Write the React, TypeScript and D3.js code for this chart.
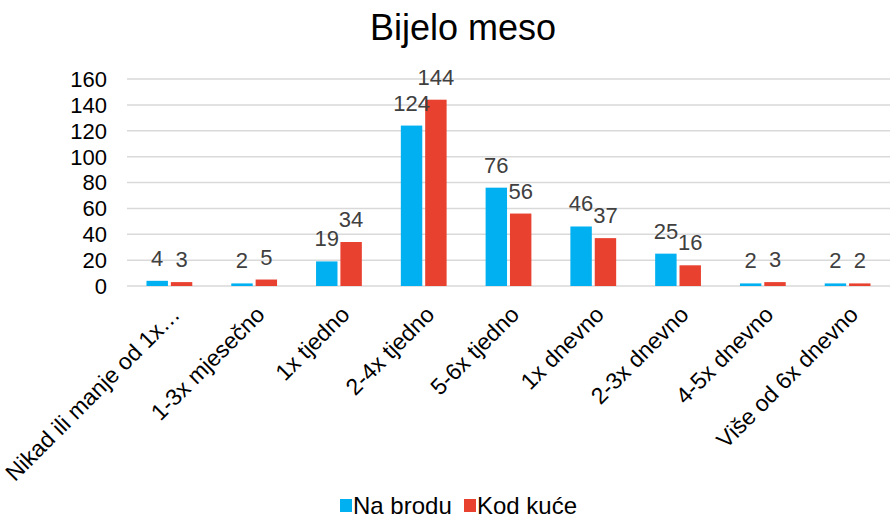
import React, { useEffect, useRef } from 'react';
import * as d3 from 'd3';

const categories = [
  'Nikad ili manje od 1x…',
  '1-3x mjesečno',
  '1x tjedno',
  '2-4x tjedno',
  '5-6x tjedno',
  '1x dnevno',
  '2-3x dnevno',
  '4-5x dnevno',
  'Više od 6x dnevno',
];
const seriesNames = ['Na brodu', 'Kod kuće'];
const naBrodu = [4, 2, 19, 124, 76, 46, 25, 2, 2];
const kodKuce = [3, 5, 34, 144, 56, 37, 16, 3, 2];
const yTicks = [0, 20, 40, 60, 80, 100, 120, 140, 160];
const colors = ['#00B0F0', '#E8412F'];

const W = 891;
const H = 519;
const FONT = 'Arial, "Liberation Sans", sans-serif';

function App() {
  const svgRef = useRef<SVGSVGElement>(null);

  useEffect(() => {
    const svg = d3.select(svgRef.current);
    svg.selectAll('*').remove();

    const left = 127, right = 890, top = 79, bottom = 286;

    const x0 = d3.scaleBand<string>()
      .domain(categories)
      .range([left, right])
      .paddingInner(0.46)
      .paddingOuter(0.23);
    const x1 = d3.scaleBand<string>()
      .domain(seriesNames)
      .range([0, x0.bandwidth()])
      .paddingInner(0.12);
    const y = d3.scaleLinear().domain([0, 160]).range([bottom, top]);

    svg.append('rect').attr('width', W).attr('height', H).attr('fill', '#fff');

    // title
    svg.append('text')
      .attr('x', 463).attr('y', 40)
      .attr('text-anchor', 'middle')
      .attr('font-family', FONT)
      .attr('font-size', 36)
      .attr('fill', '#000')
      .text('Bijelo meso');

    // gridlines
    svg.append('g').selectAll('line')
      .data(yTicks)
      .join('line')
      .attr('x1', left).attr('x2', right)
      .attr('y1', d => y(d)).attr('y2', d => y(d))
      .attr('stroke', '#D9D9D9')
      .attr('stroke-width', 1.5);

    // y tick labels
    svg.append('g').selectAll('text')
      .data(yTicks)
      .join('text')
      .attr('x', 107)
      .attr('y', d => y(d))
      .attr('dy', '0.36em')
      .attr('text-anchor', 'end')
      .attr('font-family', FONT)
      .attr('font-size', 22)
      .attr('fill', '#000')
      .text(d => d);

    const rows = categories.map((c, i) => ({ c, vals: [naBrodu[i], kodKuce[i]] }));

    const groups = svg.append('g').selectAll('g')
      .data(rows)
      .join('g')
      .attr('transform', d => `translate(${x0(d.c)},0)`);

    groups.selectAll('rect')
      .data(d => d.vals.map((v, k) => ({ s: seriesNames[k], v, k })))
      .join('rect')
      .attr('x', d => x1(d.s)!)
      .attr('y', d => y(d.v))
      .attr('width', x1.bandwidth())
      .attr('height', d => y(0) - y(d.v))
      .attr('fill', d => colors[d.k]);

    // data labels
    groups.selectAll('text')
      .data(d => d.vals.map((v, k) => ({ s: seriesNames[k], v, k })))
      .join('text')
      .attr('x', d => x1(d.s)! + x1.bandwidth() / 2)
      .attr('y', d => y(d.v) - 15)
      .attr('text-anchor', 'middle')
      .attr('font-family', FONT)
      .attr('font-size', 22)
      .attr('fill', '#404040')
      .text(d => d.v);

    // x labels, rotated
    svg.append('g').selectAll('text')
      .data(categories)
      .join('text')
      .attr('transform', d => `translate(${x0(d)! + x0.bandwidth() / 2 + 12},${316}) rotate(-45)`)
      .attr('text-anchor', 'end')
      .attr('font-family', FONT)
      .attr('font-size', 23)
      .attr('fill', '#000')
      .text(d => d);

    // legend
    const legend = svg.append('g');
    const items = [
      { name: seriesNames[0], x: 340, c: colors[0] },
      { name: seriesNames[1], x: 464, c: colors[1] },
    ];
    items.forEach(it => {
      legend.append('rect')
        .attr('x', it.x).attr('y', 499)
        .attr('width', 12).attr('height', 13)
        .attr('fill', it.c);
      legend.append('text')
        .attr('x', it.x + 13).attr('y', 514)
        .attr('font-family', FONT)
        .attr('font-size', 24)
        .attr('fill', '#000')
        .text(it.name);
    });
  }, []);

  return (
    <svg
      ref={svgRef}
      width={W}
      height={H}
      style={{ position: 'absolute', left: 0, top: 0, display: 'block' }}
    />
  );
}

export default App;
